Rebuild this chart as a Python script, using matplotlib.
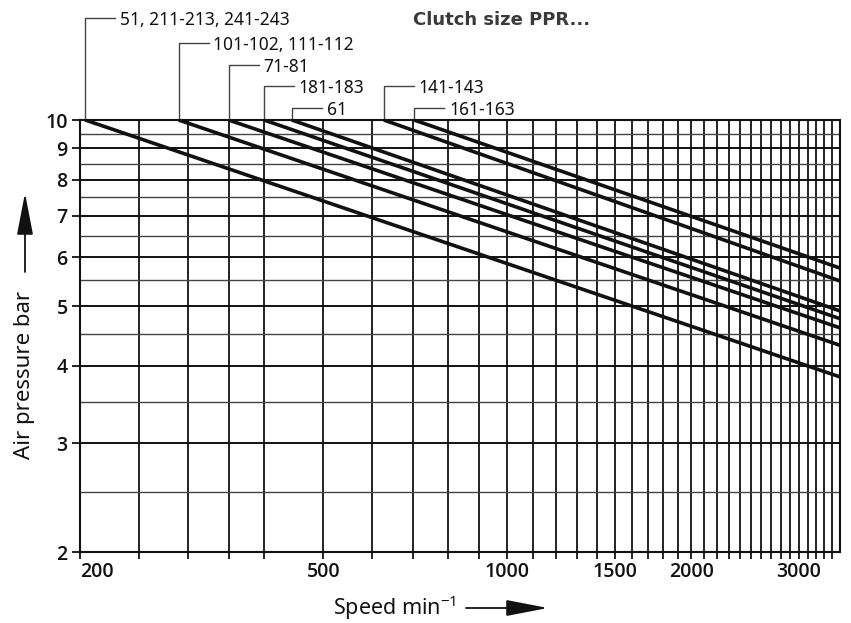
"""
Air pressure vs. speed chart for the PPR clutch sizes, log-log paper style.
"""

import matplotlib
matplotlib.use("Agg")
import matplotlib.pyplot as plt
import matplotlib.transforms as mtransforms
from matplotlib.ticker import FixedLocator, NullLocator

plt.rcParams["font.family"] = ["Noto Sans", "DejaVu Sans"]
BOLD_FAMILY = ["Open Sans", "DejaVu Sans"]

# one straight line per clutch group: from (start speed, 10 bar) to (3500 min-1, end pressure)
CLUTCH_SIZES = ["51, 211-213, 241-243", "101-102, 111-112", "71-81",
                "181-183", "61", "141-143", "161-163"]
START_SPEED = [204, 290, 350, 400, 444, 628, 704]
START_PRESSURE = 10.0
END_SPEED = 3500
END_PRESSURE = [3.84, 4.32, 4.61, 4.77, 4.91, 5.49, 5.76]

SPEED_GRID = [200, 250, 300, 350, 400] + list(range(500, 3500, 100))
SPEED_TICK_LABELS = {200: "200", 500: "500", 1000: "1000", 1500: "1500",
                     2000: "2000", 3000: "3000"}
PRESSURE_TICKS = [2, 3, 4, 5, 6, 7, 8, 9, 10]
PRESSURE_HALF = [2.5, 3.5, 4.5, 5.5, 6.5, 7.5, 8.5, 9.5]

# height (axes fraction) of each leader label row, and which row each clutch label sits on
LABEL_ROW_Y = [1.236, 1.178, 1.127, 1.079, 1.028]
LABEL_ROW = [0, 1, 2, 3, 4, 3, 4]

W, H = 851, 623
fig = plt.figure(figsize=(W / 100, H / 100), dpi=100)
ax = fig.add_axes([80 / W, 1 - 552 / H, 760 / W, 432 / H])
ax.set_xscale("log")
ax.set_yscale("log")
ax.set_xlim(200, 3500)
ax.set_ylim(2, 10)

# grid paper
ax.vlines(SPEED_GRID, 2, 10, color="#111111", lw=1.3, zorder=1)
ax.hlines(PRESSURE_TICKS, 200, 3500, color="#111111", lw=1.4, zorder=1)
ax.hlines(PRESSURE_HALF, 200, 3500, color="#444444", lw=1.0, zorder=1)
for s in ax.spines.values():
    s.set_linewidth(1.5)
    s.set_color("#111111")

ax.xaxis.set_major_locator(FixedLocator(SPEED_GRID))
ax.xaxis.set_minor_locator(NullLocator())
ax.set_xticklabels([SPEED_TICK_LABELS.get(v, "") for v in SPEED_GRID])
ax.yaxis.set_major_locator(FixedLocator(PRESSURE_TICKS))
ax.yaxis.set_minor_locator(NullLocator())
ax.set_yticklabels([str(v) for v in PRESSURE_TICKS])
ax.tick_params(axis="x", length=5, width=1.3, pad=2, labelsize=14, color="#111111")
ax.tick_params(axis="y", length=6, width=1.3, pad=3, labelsize=14, color="#111111")
for lab in ax.get_xticklabels() + ax.get_yticklabels():
    lab.set_family(BOLD_FAMILY)
    lab.set_fontweight("semibold")
    lab.set_color("#111111")
ax.get_xticklabels()[0].set_horizontalalignment("left")

# pressure lines
for x0, p1 in zip(START_SPEED, END_PRESSURE):
    ax.plot([x0, END_SPEED], [START_PRESSURE, p1], color="#111111", lw=2.6,
            solid_capstyle="butt", zorder=3)

# leader labels above the chart
trans = mtransforms.blended_transform_factory(ax.transData, ax.transAxes)
for name, x0, row in zip(CLUTCH_SIZES, START_SPEED, LABEL_ROW):
    y = LABEL_ROW_Y[row]
    ax.plot([x0, x0, x0 * 1.12], [1.0, y, y], transform=trans, color="#444444",
            lw=1.0, clip_on=False, zorder=2)
    ax.text(x0 * 1.14, y, name, transform=trans, ha="left", va="center_baseline",
            fontsize=12.5, color="#111111")

ax.text(0.438, LABEL_ROW_Y[0], "Clutch size PPR...", transform=ax.transAxes,
        ha="left", va="center_baseline", fontsize=13, fontweight="bold",
        family="DejaVu Sans", color="#3a3a3a")

# axis titles with arrows
fig.text(25 / W, 1 - 375 / H, "Air pressure bar", rotation=90, ha="center",
         va="center", fontsize=16, color="#111111")
ax.annotate("", xy=(25 / W, 1 - 193 / H), xytext=(25 / W, 1 - 272 / H),
            xycoords="figure fraction", textcoords="figure fraction",
            arrowprops=dict(arrowstyle="-|>,head_length=2.6,head_width=0.5",
                            color="#111111", lw=1.3, shrinkA=0, shrinkB=0))
fig.text(333 / W, 1 - 608 / H, r"Speed min$^{\mathregular{-1}}$", ha="left",
         va="center", fontsize=15.5, color="#111111")
ax.annotate("", xy=(548 / W, 1 - 608 / H), xytext=(466 / W, 1 - 608 / H),
            xycoords="figure fraction", textcoords="figure fraction",
            arrowprops=dict(arrowstyle="-|>,head_length=2.6,head_width=0.5",
                            color="#111111", lw=1.3, shrinkA=0, shrinkB=0))

fig.savefig("out.png", dpi=100)
